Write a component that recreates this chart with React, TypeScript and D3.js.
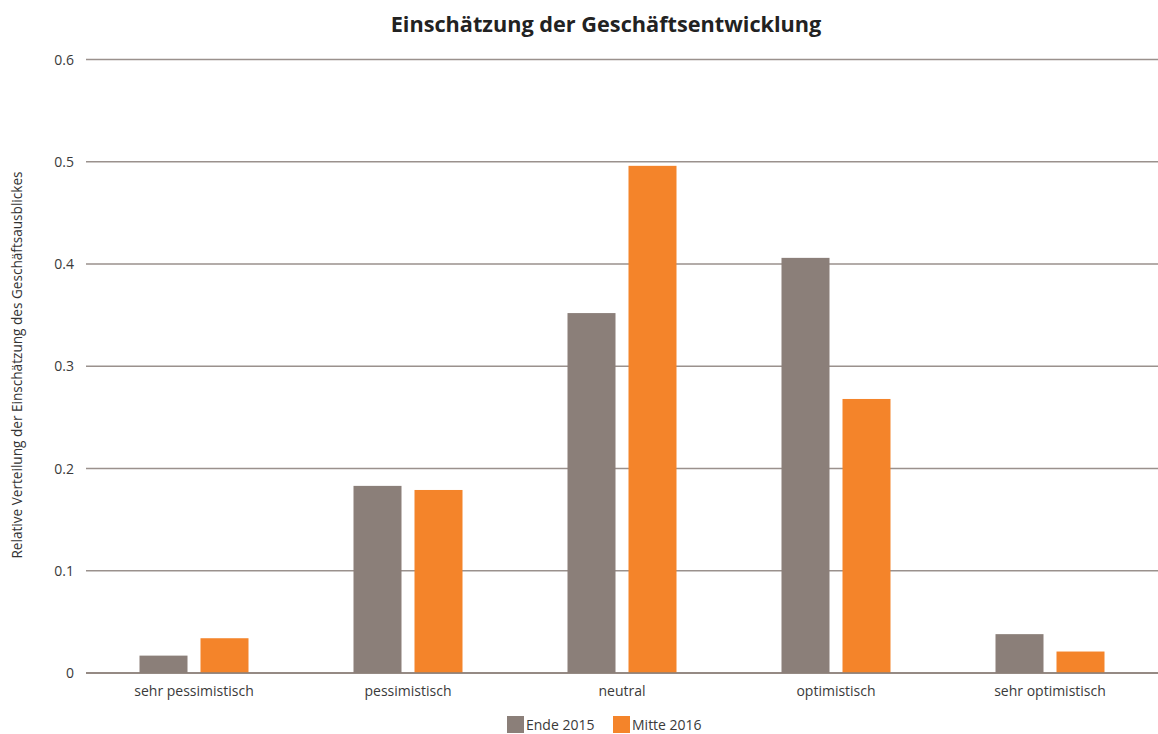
import React from "react";
import * as d3 from "d3";

const categories = ["sehr pessimistisch", "pessimistisch", "neutral", "optimistisch", "sehr optimistisch"];
const seriesNames = ["Ende 2015", "Mitte 2016"];
const ende2015 = [0.017, 0.183, 0.352, 0.406, 0.038];
const mitte2016 = [0.034, 0.179, 0.496, 0.268, 0.021];
const yTicks = [0, 0.1, 0.2, 0.3, 0.4, 0.5, 0.6];
const colors = ["#8b7f79", "#f4842a"];

const W = 1158, H = 734;
const FONT = "'Open Sans', 'Noto Sans', sans-serif";

export default function App() {
  const x = d3.scaleBand<string>().domain(categories).range([87, 1157]).paddingInner(0).paddingOuter(0);
  const y = d3.scaleLinear().domain([0, 0.6]).range([673, 59.5]);
  const barW = 48, gap = 13;
  const series = [ende2015, mitte2016];
  return (
    <svg width={W} height={H} style={{ position: "absolute", left: 0, top: 0, background: "#fff" }}>
      <text x={606} y={32} textAnchor="middle" fontFamily={FONT} fontWeight="bold" fontSize={21.7} fill="#222">
        Einschätzung der Geschäftsentwicklung
      </text>
      {yTicks.map((t) => (
        <g key={t}>
          <line x1={86} x2={1158} y1={y(t)} y2={y(t)} stroke="#9a918d" strokeWidth={1.5} />
          <text x={74} y={y(t) + 5} textAnchor="end" fontFamily={FONT} fontSize={14} fill="#3a3a3a">
            {d3.format("")(t)}
          </text>
        </g>
      ))}
      {categories.map((c, i) => {
        const cx = (x(c) ?? 0) + x.bandwidth() / 2;
        return (
          <g key={c}>
            {series.map((s, j) => {
              const bx = cx - gap / 2 - barW + j * (barW + gap);
              return (
                <rect key={j} x={bx} y={y(s[i])} width={barW} height={y(0) - y(s[i])} fill={colors[j]} />
              );
            })}
            <text x={cx} y={696} textAnchor="middle" fontFamily={FONT} fontSize={14} fill="#3a3a3a">
              {c}
            </text>
          </g>
        );
      })}
      <line x1={86} x2={1158} y1={y(0)} y2={y(0)} stroke="#8b7f79" strokeWidth={1.5} />
      <text
        transform={`translate(22,${365}) rotate(-90)`}
        textAnchor="middle"
        fontFamily={FONT}
        fontSize={13.6}
        fill="#333"
      >
        Relative Verteilung der Einschätzung des Geschäftsausblickes
      </text>
      {seriesNames.map((n, j) => {
        const lx = j === 0 ? 507 : 613;
        return (
          <g key={n}>
            <rect x={lx} y={716} width={17} height={17} fill={colors[j]} />
            <text x={lx + 19} y={730} fontFamily={FONT} fontSize={14} fill="#3a3a3a">
              {n}
            </text>
          </g>
        );
      })}
    </svg>
  );
}
